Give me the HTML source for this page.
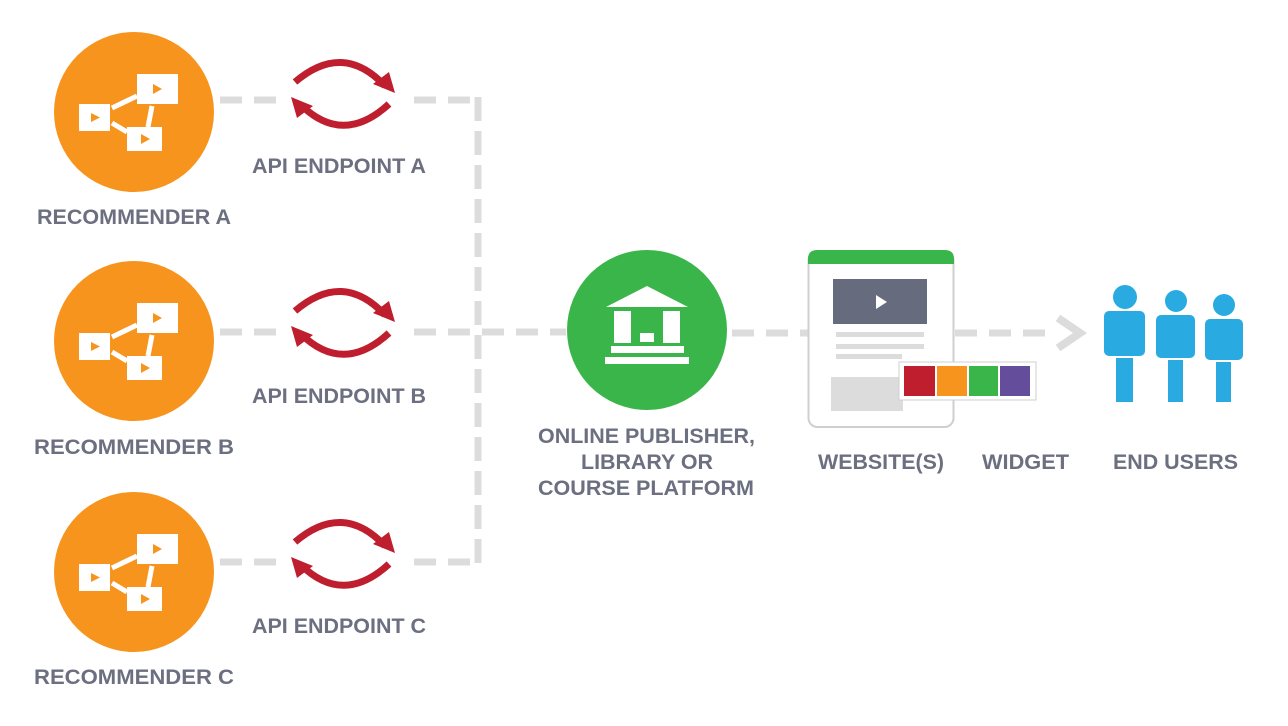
<!DOCTYPE html>
<html><head><meta charset="utf-8"><style>
html,body{margin:0;padding:0;background:#fff;width:1288px;height:726px;overflow:hidden}
svg{display:block}
text{font-family:"Liberation Sans",Arial,sans-serif;font-weight:bold;font-size:21px;fill:#6b6f80}
</style></head><body>
<svg width="1288" height="726" viewBox="0 0 1288 726">
<defs>
<g id="rec">
<circle cx="0" cy="0" r="80" fill="#f7941d"/>
<g stroke="#fff" stroke-width="5">
<line x1="-22" y1="-4" x2="3" y2="-16"/>
<line x1="-22" y1="11" x2="-7" y2="20"/>
<line x1="18" y1="-6" x2="14" y2="15"/>
</g>
<rect x="3" y="-38" width="41" height="30" fill="#fff"/>
<rect x="-55" y="-8" width="31" height="27" fill="#fff"/>
<rect x="-7" y="15" width="35" height="24" fill="#fff"/>
<polygon points="19,-28 19,-18 28,-23" fill="#f7941d"/>
<polygon points="-43,1 -43,10 -34,5.5" fill="#f7941d"/>
<polygon points="7,22 7,32 16,27" fill="#f7941d"/>
</g>
<g id="cyc" fill="none" stroke="#be1e2d" stroke-width="7">
<path d="M-48,-14 Q0,-55 42,-10"/>
<path d="M46,8 Q0,50 -42,9"/>
<polygon points="52,-3 30,-12 46,-24" fill="#be1e2d" stroke="none"/>
<polygon points="-52,1 -30,10 -46,22" fill="#be1e2d" stroke="none"/>
</g>
</defs>
<g stroke="#dcdcdc" stroke-width="7" stroke-dasharray="22 12" fill="none">
<line x1="220" y1="100" x2="282" y2="100"/>
<line x1="414" y1="100" x2="478" y2="100"/>
<line x1="220" y1="332" x2="282" y2="332"/>
<line x1="414" y1="332" x2="566" y2="332"/>
<line x1="220" y1="562" x2="282" y2="562"/>
<line x1="414" y1="562" x2="478" y2="562"/>
<line x1="478" y1="97" x2="478" y2="565" stroke-dasharray="24 10"/>
<line x1="732" y1="333" x2="808" y2="333"/>
<line x1="955" y1="333" x2="1048" y2="333"/>
<polyline points="1058,318 1080,333 1058,348" stroke-dasharray="none" stroke-width="8"/>
</g>
<use href="#rec" x="134" y="112"/>
<use href="#rec" x="134" y="341"/>
<use href="#rec" x="134" y="572"/>
<use href="#cyc" x="343" y="96"/>
<use href="#cyc" x="343" y="325"/>
<use href="#cyc" x="343" y="556"/>
<text x="252" y="173" textLength="174" lengthAdjust="spacingAndGlyphs">API ENDPOINT A</text>
<text x="252" y="403" textLength="174" lengthAdjust="spacingAndGlyphs">API ENDPOINT B</text>
<text x="252" y="633" textLength="174" lengthAdjust="spacingAndGlyphs">API ENDPOINT C</text>
<text x="37" y="224" textLength="194" lengthAdjust="spacingAndGlyphs">RECOMMENDER A</text>
<text x="34" y="454" textLength="200" lengthAdjust="spacingAndGlyphs">RECOMMENDER  B</text>
<text x="34" y="684" textLength="200" lengthAdjust="spacingAndGlyphs">RECOMMENDER  C</text>
<circle cx="647" cy="330" r="80" fill="#3ab54a"/>
<polygon points="647,286 606,307 688,307" fill="#fff"/>
<rect x="614" y="311" width="17" height="32" fill="#fff"/>
<rect x="663" y="311" width="17" height="32" fill="#fff"/>
<rect x="640" y="333" width="14" height="9" fill="#fff"/>
<rect x="611" y="346" width="73" height="7" fill="#fff"/>
<rect x="605" y="357" width="84" height="7" fill="#fff"/>
<text x="538" y="443" textLength="217" lengthAdjust="spacingAndGlyphs">ONLINE PUBLISHER,</text>
<text x="581" y="469" textLength="132" lengthAdjust="spacingAndGlyphs">LIBRARY OR</text>
<text x="538" y="495" textLength="216" lengthAdjust="spacingAndGlyphs">COURSE PLATFORM</text>
<rect x="808.5" y="251" width="145" height="176" rx="9" fill="#fff" stroke="#cfcfcf" stroke-width="2"/>
<path d="M808,264 V259 Q808,250 817,250 H945 Q954,250 954,259 V264 Z" fill="#3ab54a"/>
<rect x="833" y="279" width="94" height="45" fill="#676b7e"/>
<polygon points="876,295 876,309 887,302" fill="#fff"/>
<rect x="836" y="332" width="88" height="5" fill="#dcdcdc"/>
<rect x="836" y="344" width="88" height="5" fill="#dcdcdc"/>
<rect x="836" y="354" width="66" height="5" fill="#dcdcdc"/>
<rect x="831" y="377" width="72" height="34" fill="#dcdcdc"/>
<rect x="899" y="362" width="137" height="38" fill="#fff" stroke="#cfcfcf" stroke-width="1"/>
<rect x="904" y="366" width="31" height="30" fill="#be1e2d"/>
<rect x="937" y="366" width="30" height="30" fill="#f7941d"/>
<rect x="969" y="366" width="29" height="30" fill="#3ab54a"/>
<rect x="1000" y="366" width="30" height="30" fill="#644e9b"/>
<text x="818" y="469" textLength="126" lengthAdjust="spacingAndGlyphs">WEBSITE(S)</text>
<text x="982" y="469" textLength="87" lengthAdjust="spacingAndGlyphs">WIDGET</text>
<text x="1113" y="469" textLength="125" lengthAdjust="spacingAndGlyphs">END USERS</text>
<g fill="#29abe2">
<circle cx="1125" cy="297" r="12"/>
<rect x="1104" y="311" width="41" height="45" rx="5"/>
<rect x="1116" y="358" width="17" height="44"/>
<circle cx="1176" cy="301" r="11"/>
<rect x="1156" y="315" width="39" height="43" rx="5"/>
<rect x="1168" y="360" width="15" height="42"/>
<circle cx="1224" cy="305" r="11"/>
<rect x="1205" y="319" width="38" height="41" rx="5"/>
<rect x="1216" y="362" width="15" height="40"/>
</g>
</svg>
</body></html>
